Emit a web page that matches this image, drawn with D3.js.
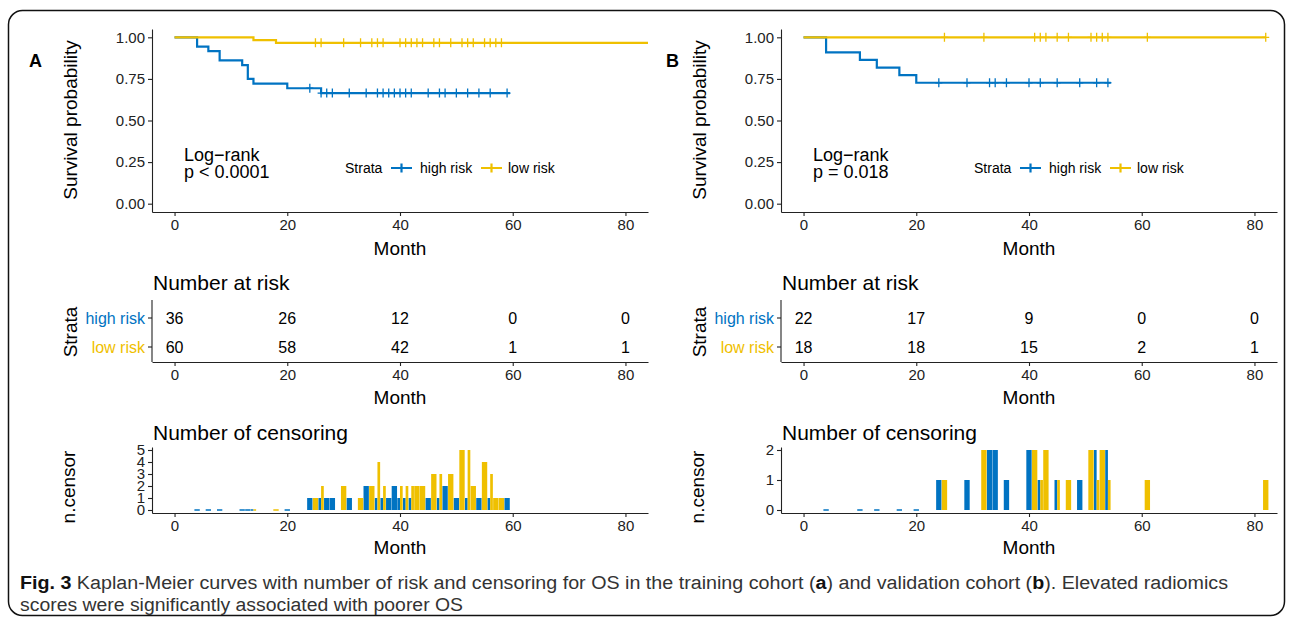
<!DOCTYPE html>
<html>
<head>
<meta charset="utf-8">
<script src="https://cdn.jsdelivr.net/npm/d3@7"></script>
<style>
  body { margin: 0; background: #fff; }
  svg text { font-family: "Liberation Sans", Arial, sans-serif; fill: #000; }
  .axis path, .axis line { stroke: #222; stroke-width: 1.1px; }
  .axis text { font-size: 15px; fill: #222; }
  .title { font-size: 19px; }
  .sub { font-size: 21px; }
  .lab { font-size: 18px; }
  .legend { font-size: 14px; }
  .num { font-size: 16px; }
  .panel-tag { font-size: 18px; font-weight: bold; }
  .caption { font-family: "Liberation Sans Narrow", "Liberation Sans", sans-serif; font-size: 18px; fill: #333; }
</style>
</head>
<body>
<svg id="fig" width="1295" height="624"></svg>
<script>
// ---- data ----
const months = [0, 20, 40, 60, 80];
const probTicks = [0, 0.25, 0.5, 0.75, 1];
const strata = ["high risk", "low risk"];

// panel A (training cohort)
const hiStepsA = [[0, 1], [4, 0.944], [6, 0.917], [8, 0.861], [12, 0.833], [13, 0.75], [14, 0.722], [20, 0.694], [26, 0.665]];
const loStepsA = [[0, 1], [14, 0.983], [18, 0.967]];
const endsA = [59.5, 84];
const hiCensorA = [[24, 1], [26, 1], [27, 1], [28, 1], [31, 1], [34, 2], [36, 1], [37, 1], [38, 1], [39, 2], [40, 1], [41, 1], [42, 1],
                   [45, 1], [47, 1], [48, 2], [50, 1], [52, 1], [54, 1], [56, 1], [59, 1]];
const loCensorA = [[25, 1], [26, 2], [30, 2], [33, 1], [35, 2], [36, 4], [37, 2], [40, 2], [41, 2], [42, 2], [43, 2], [44, 2],
                   [46, 3], [47, 3], [49, 3], [51, 5], [52, 5], [53, 2], [55, 4], [56, 3], [57, 1], [58, 1]];
const hiEventTimesA = [4, 6, 8, 12, 13, 14, 20];
const loEventTimesA = [14, 18];
const riskHiA = [36, 26, 12, 0, 0];
const riskLoA = [60, 58, 42, 1, 1];
const censorTicksA = [0, 1, 2, 3, 4, 5];

// panel B (validation cohort)
const hiStepsB = [[0, 1], [4, 0.909], [10, 0.864], [13, 0.818], [17, 0.773], [20, 0.727]];
const loStepsB = [[0, 1]];
const endsB = [54.5, 82];
const hiCensorB = [[24, 1], [29, 1], [33, 2], [34, 2], [36, 1], [40, 2], [42, 1], [45, 1], [49, 1], [52, 2], [54, 2]];
const loCensorB = [[25, 1], [32, 2], [41, 2], [42, 1], [43, 2], [45, 1], [47, 1], [51, 2], [52, 1], [53, 2], [54, 1], [61, 1], [82, 1]];
const hiEventTimesB = [4, 10, 13, 17, 20];
const loEventTimesB = [];
const riskHiB = [22, 17, 9, 0, 0];
const riskLoB = [18, 18, 15, 2, 1];
const censorTicksB = [0, 1, 2];

const colors = ["#0073C2", "#EFC000"];

const svg = d3.select("#fig");

// outer frame
svg.append("rect")
  .attr("x", 8.5).attr("y", 10.5)
  .attr("width", 1276).attr("height", 605)
  .attr("rx", 14).attr("ry", 14)
  .attr("fill", "none").attr("stroke", "#111").attr("stroke-width", 1.5);

function drawPanel(dx, tagX, p) {
  const g = svg.append("g").attr("transform", `translate(${dx},0)`);
  const x = d3.scaleLinear().domain([-4, 84]).range([152, 648]);

  g.append("text").attr("class", "panel-tag")
    .attr("x", tagX - dx).attr("y", 67).text(p.tag);

  // ---------- survival curves ----------
  const y = d3.scaleLinear().domain([-0.05, 1.05]).range([212, 29]);

  g.append("g").attr("class", "axis")
    .attr("transform", "translate(0,212)")
    .call(d3.axisBottom(x).tickValues(months).tickSize(4).tickSizeOuter(0).tickPadding(3));
  g.append("g").attr("class", "axis")
    .attr("transform", "translate(152,0)")
    .call(d3.axisLeft(y).tickValues(probTicks).tickFormat(d3.format(".2f")).tickSize(4).tickSizeOuter(0).tickPadding(3));

  g.append("text").attr("class", "title")
    .attr("transform", "translate(70,120) rotate(-90)")
    .attr("text-anchor", "middle").attr("dominant-baseline", "central")
    .text("Survival probability");
  g.append("text").attr("class", "title")
    .attr("x", 400).attr("y", 248).attr("text-anchor", "middle").attr("dominant-baseline", "central")
    .text("Month");

  const line = d3.line().x(d => x(d[0])).y(d => y(d[1])).curve(d3.curveStepAfter);
  const bis = d3.bisector(d => d[0]).right;

  strata.forEach((s, i) => {
    const steps = p.steps[i];
    const pts = steps.concat([[p.ends[i], steps[steps.length - 1][1]]]);
    g.append("path").datum(pts)
      .attr("d", line)
      .attr("fill", "none").attr("stroke", colors[i]).attr("stroke-width", 2.2);

    // censor marks
    g.append("g").selectAll("path")
      .data(p.censor[i])
      .join("path")
      .attr("d", d => {
        const sv = steps[bis(steps, d[0]) - 1][1];
        const cx = x(d[0]), cy = y(sv);
        return `M${cx},${cy - 4.5}V${cy + 4.5}M${cx - 3.5},${cy}H${cx + 3.5}`;
      })
      .attr("stroke", colors[i]).attr("stroke-width", 1.3).attr("fill", "none");
  });

  // log-rank text
  g.append("text").attr("class", "lab").attr("x", 184).attr("y", 155)
    .attr("dominant-baseline", "central").text("Log\u2212rank");
  g.append("text").attr("class", "lab").attr("x", 184).attr("y", 172)
    .attr("dominant-baseline", "central").text(p.pText);

  // legend
  const lg = g.append("g").attr("class", "legend");
  lg.append("text").attr("x", 345).attr("y", 168).attr("dominant-baseline", "central").text("Strata");
  const keyX = [391, 481], labX = [420, 508];
  strata.forEach((s, i) => {
    lg.append("path")
      .attr("d", `M${keyX[i]},168H${keyX[i] + 21}M${keyX[i] + 10.5},163.5V172.5`)
      .attr("stroke", colors[i]).attr("stroke-width", 2.2);
    lg.append("text").attr("x", labX[i]).attr("y", 168).attr("dominant-baseline", "central").text(s);
  });

  // ---------- number at risk ----------
  const rowY = [318, 347];
  g.append("text").attr("class", "sub").attr("x", 153).attr("y", 282)
    .attr("dominant-baseline", "central").text("Number at risk");
  g.append("text").attr("class", "title")
    .attr("transform", "translate(70,332) rotate(-90)")
    .attr("text-anchor", "middle").attr("dominant-baseline", "central")
    .text("Strata");

  g.append("g").attr("class", "axis")
    .attr("transform", "translate(0,362)")
    .call(d3.axisBottom(x).tickValues(months).tickSize(4).tickSizeOuter(0).tickPadding(3));
  const yr = d3.scaleOrdinal().domain(strata).range(rowY);
  const ra = g.append("g").attr("class", "axis")
    .attr("transform", "translate(152,0)");
  ra.append("line").attr("y1", 300).attr("y2", 362);
  strata.forEach((s, i) => {
    ra.append("line").attr("x1", -4).attr("x2", 0).attr("y1", yr(s)).attr("y2", yr(s));
    ra.append("text").attr("x", -7).attr("y", yr(s))
      .attr("text-anchor", "end").attr("dominant-baseline", "central")
      .style("fill", colors[i]).style("font-size", "16px").text(s);
  });
  g.append("text").attr("class", "title")
    .attr("x", 400).attr("y", 397).attr("text-anchor", "middle").attr("dominant-baseline", "central")
    .text("Month");

  strata.forEach((s, i) => {
    g.append("g").selectAll("text")
      .data(p.risk[i])
      .join("text")
      .attr("class", "num")
      .attr("x", (d, k) => x(months[k])).attr("y", yr(s))
      .attr("text-anchor", "middle").attr("dominant-baseline", "central")
      .text(d => d);
  });

  // ---------- number of censoring ----------
  const yc = d3.scaleLinear()
    .domain([-0.05 * p.cMax, 1.05 * p.cMax]).range([513, 447]);
  g.append("text").attr("class", "sub").attr("x", 153).attr("y", 432)
    .attr("dominant-baseline", "central").text("Number of censoring");
  g.append("text").attr("class", "title")
    .attr("transform", "translate(68,487) rotate(-90)")
    .attr("text-anchor", "middle").attr("dominant-baseline", "central")
    .text("n.censor");

  const rows = [];
  strata.forEach((s, i) => {
    p.censor[i].forEach(d => rows.push({ t: d[0], n: d[1], i }));
    p.events[i].forEach(t => {
      if (!p.censor[i].some(d => d[0] === t)) rows.push({ t, n: 0, i });
    });
  });
  // bars that share a month are dodged side by side
  const byTime = d3.group(rows, d => d.t);
  const bw = 0.95;
  rows.forEach(d => {
    const k = byTime.get(d.t).length;
    d.w = bw / k;
    d.x0 = d.t - bw / 2 + (k > 1 ? d.i : 0) * d.w;
  });

  g.append("g").selectAll("rect")
    .data(rows.filter(d => d.n > 0))
    .join("rect")
    .attr("x", d => x(d.x0))
    .attr("width", d => x(d.x0 + d.w) - x(d.x0))
    .attr("y", d => yc(d.n))
    .attr("height", d => yc(0) - yc(d.n))
    .attr("fill", d => colors[d.i]);
  g.append("g").selectAll("line")
    .data(rows.filter(d => d.n === 0))
    .join("line")
    .attr("x1", d => x(d.x0)).attr("x2", d => x(d.x0 + d.w))
    .attr("y1", yc(0)).attr("y2", yc(0))
    .attr("stroke", d => colors[d.i]).attr("stroke-width", 1.5);

  g.append("g").attr("class", "axis")
    .attr("transform", "translate(0,513)")
    .call(d3.axisBottom(x).tickValues(months).tickSize(4).tickSizeOuter(0).tickPadding(3));
  g.append("g").attr("class", "axis")
    .attr("transform", "translate(152,0)")
    .call(d3.axisLeft(yc).tickValues(p.cTicks).tickFormat(d3.format("d")).tickSize(4).tickSizeOuter(0).tickPadding(3));
  g.append("text").attr("class", "title")
    .attr("x", 400).attr("y", 547).attr("text-anchor", "middle").attr("dominant-baseline", "central")
    .text("Month");
}

drawPanel(0, 29, {
  tag: "A", steps: [hiStepsA, loStepsA], ends: endsA,
  censor: [hiCensorA, loCensorA], events: [hiEventTimesA, loEventTimesA],
  risk: [riskHiA, riskLoA], pText: "p < 0.0001",
  cMax: 5, cTicks: censorTicksA
});
drawPanel(629, 666, {
  tag: "B", steps: [hiStepsB, loStepsB], ends: endsB,
  censor: [hiCensorB, loCensorB], events: [hiEventTimesB, loEventTimesB],
  risk: [riskHiB, riskLoB], pText: "p = 0.018",
  cMax: 2, cTicks: censorTicksB
});

// ---------- caption ----------
const capParts = [
  ["Fig. 3", true],
  [" Kaplan-Meier curves with number of risk and censoring for OS in the training cohort (", false],
  ["a", true],
  [") and validation cohort (", false],
  ["b", true],
  ["). Elevated radiomics", false]
];
const cap1 = svg.append("text").attr("class", "caption").attr("x", 20).attr("y", 589);
capParts.forEach(([t, b]) => {
  cap1.append("tspan").attr("font-weight", b ? "bold" : null)
    .style("fill", b ? "#111" : null).text(t);
});
cap1.attr("textLength", 1208).attr("lengthAdjust", "spacingAndGlyphs");
svg.append("text").attr("class", "caption").attr("x", 20).attr("y", 611)
  .attr("textLength", 443).attr("lengthAdjust", "spacingAndGlyphs")
  .text("scores were significantly associated with poorer OS");
</script>
</body>
</html>
